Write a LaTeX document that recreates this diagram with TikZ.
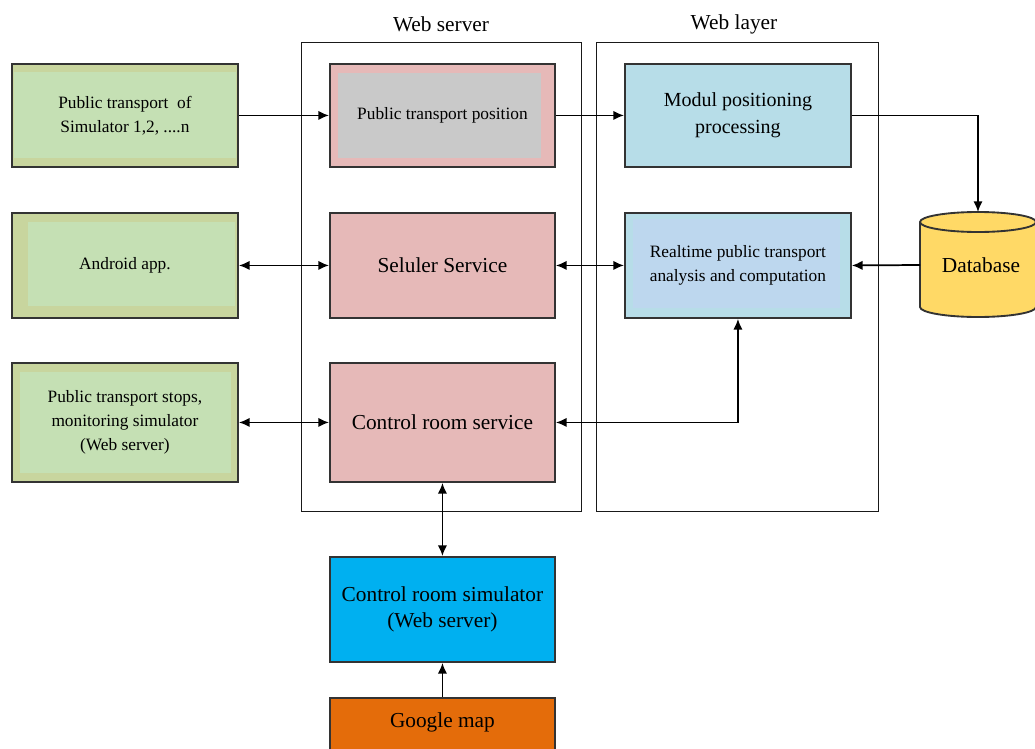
\documentclass[tikz,border=0pt]{standalone}
\usepackage{fontspec}
\setmainfont{Liberation Serif}
\usetikzlibrary{arrows.meta}
\definecolor{gout}{HTML}{C8D59E}
\definecolor{gin}{HTML}{C5E0B4}
\definecolor{pinkf}{HTML}{E6B9B8}
\definecolor{grayin}{HTML}{C9C9C9}
\definecolor{blueone}{HTML}{B7DDE8}
\definecolor{bluein}{HTML}{BDD7EE}
\definecolor{dbyellow}{HTML}{FFD966}
\definecolor{csblue}{HTML}{00B0F0}
\definecolor{gmorange}{HTML}{E46C0A}
\begin{document}
\begin{tikzpicture}[x=0.75pt,y=-0.75pt,
  box/.style={draw=black!80, line width=1.4pt, minimum width=226*0.75pt, align=center, anchor=north west, inner sep=0pt},
  ins/.style n args={5}{path picture={\fill[#1] ([shift={(#2,#3)}]path picture bounding box.north west) rectangle ([shift={(-#4,-#5)}]path picture bounding box.south east);}},
  container/.style={draw=black!90, line width=0.9pt, anchor=north west, inner sep=0pt},
  title/.style={font=\fontsize{16}{19}\selectfont},
  small/.style={font=\fontsize{13}{18}\selectfont},
  mid/.style={font=\fontsize{15}{20}\selectfont},
  big/.style={font=\fontsize{16}{20}\selectfont},
  arr/.style={line width=1.3pt, -{Latex[length=8pt,width=7pt]}},
  darr/.style={line width=1.3pt, {Latex[length=8pt,width=7pt]}-{Latex[length=8pt,width=7pt]}}
]
\useasboundingbox (0,0) rectangle (1035,749);

% containers
\node[container, minimum width=280*0.75pt, minimum height=469*0.75pt] (ws) at (301,42) {};
\node[container, minimum width=282*0.75pt, minimum height=469*0.75pt] (wl) at (596,42) {};
\node[title] (wst) at (441,24) {Web server};
\node[title] (wlt) at (734,24) {Web layer};

% left column
\node[box, small, fill=gout, ins={gin}{2}{8}{2}{9}, minimum height=103*0.75pt] (g1) at (11,63) {Public transport\ \ of\\Simulator 1,2, ....n};
\node[box, small, fill=gout, ins={gin}{16}{9}{3}{12}, minimum height=105*0.75pt] (g2) at (11,212) {Android app.};
\node[box, small, fill=gout, ins={gin}{8}{9}{7}{9}, minimum height=119*0.75pt] (g3) at (11,362) {Public transport stops,\\monitoring simulator\\(Web server)};

% web server column
\node[box, small, fill=pinkf, ins={grayin}{8}{9}{14}{9}, minimum width=225*0.75pt, minimum height=103*0.75pt] (p1) at (329,63) {Public transport position};
\node[box, big, fill=pinkf, minimum width=225*0.75pt, minimum height=105*0.75pt] (p2) at (329,212) {Seluler Service};
\node[box, big, fill=pinkf, minimum width=225*0.75pt, minimum height=119*0.75pt] (p3) at (329,362) {Control room service};

% web layer column
\node[box, mid, fill=blueone, minimum height=103*0.75pt] (b1) at (624,63) {Modul positioning\\processing};
\node[box, small, fill=blueone, ins={bluein}{8}{6}{11}{10}, minimum height=105*0.75pt] (b2) at (624,212) {Realtime public transport\\analysis and computation};

% bottom
\node[box, big, fill=csblue, minimum width=225*0.75pt, minimum height=105*0.75pt] (cs) at (329,556) {Control room simulator\\(Web server)};
\node[box, big, fill=gmorange, minimum width=225*0.75pt, minimum height=70*0.75pt, text depth=26*0.75pt] (gm) at (329,697) {Google map};

% database cylinder
\path[fill=dbyellow, draw=black!80, line width=1.4pt]
  (920,222) -- (920,307) arc[start angle=180, end angle=0, x radius=58, y radius=10]
  -- (1036,222) arc[start angle=0, end angle=-180, x radius=58, y radius=10] -- cycle;
\draw[black!80, line width=1.4pt] (920,222) arc[start angle=180, end angle=0, x radius=58, y radius=10];
\node[big] (db) at (981,265) {Database};
\coordinate (dbtop) at (978,212);
\coordinate (dbleft) at (920,265);

% connectors
\draw[arr] (g1.east) -- (p1.west);
\draw[arr] (p1.east) -- (b1.west);
\draw[arr] (b1.east) -| (dbtop);
\draw[arr] (dbleft) -- (b2.east);
\draw[darr] (g2.east) -- (p2.west);
\draw[darr] (p2.east) -- (b2.west);
\draw[darr] (g3.east) -- (p3.west);
\draw[darr] (p3.east) -| (b2.south);
\draw[darr] (p3.south) -- (cs.north);
\draw[arr] (gm.north) -- (cs.south);
\end{tikzpicture}
\end{document}
